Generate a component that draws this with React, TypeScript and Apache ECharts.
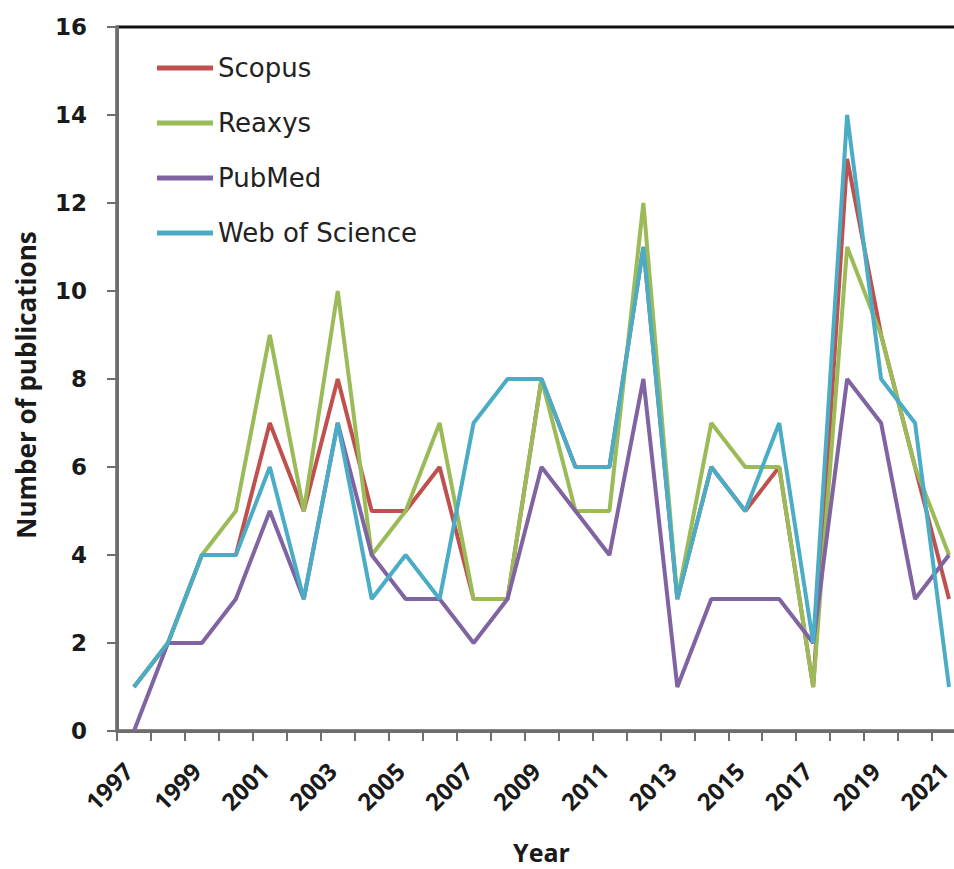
import React, { useEffect, useRef } from "react";
import * as echarts from "echarts";

const years = [
  "1997", "1998", "1999", "2000", "2001", "2002", "2003", "2004", "2005",
  "2006", "2007", "2008", "2009", "2010", "2011", "2012", "2013", "2014",
  "2015", "2016", "2017", "2018", "2019", "2020", "2021",
];
const scopus = [1, 2, 4, 4, 7, 5, 8, 5, 5, 6, 3, 3, 8, 6, 6, 11, 3, 6, 5, 6, 1, 13, 9, 6, 3];
const reaxys = [1, 2, 4, 5, 9, 5, 10, 4, 5, 7, 3, 3, 8, 5, 5, 12, 3, 7, 6, 6, 1, 11, 9, 6, 4];
const pubmed = [0, 2, 2, 3, 5, 3, 7, 4, 3, 3, 2, 3, 6, 5, 4, 8, 1, 3, 3, 3, 2, 8, 7, 3, 4];
const webOfScience = [1, 2, 4, 4, 6, 3, 7, 3, 4, 3, 7, 8, 8, 6, 6, 11, 3, 6, 5, 7, 2, 14, 8, 7, 1];
const yTicks = { min: 0, max: 16, interval: 2 };

const FONT = "'Open Sans', 'Noto Sans', sans-serif";
const WIDE = "'DejaVu Sans', sans-serif";
const AXIS_GRAY = "#6e6e6e";

export default function App() {
  const ref = useRef<HTMLDivElement>(null);
  useEffect(() => {
    const chart = echarts.init(ref.current!, null, { renderer: "svg" });
    const mk = (name: string, data: number[], color: string) => ({
      name,
      type: "line",
      data,
      symbol: "none",
      lineStyle: { color, width: 4 },
      itemStyle: { color },
    });
    chart.setOption({
      animation: false,
      backgroundColor: "#ffffff",
      grid: {
        left: 117,
        top: 27,
        right: 1,
        bottom: 136,
        show: true,
        borderColor: "#111111",
        borderWidth: 3,
        backgroundColor: "transparent",
      },
      legend: {
        orient: "vertical",
        left: 152,
        top: 48,
        icon: "rect",
        itemWidth: 56,
        itemHeight: 5,
        itemGap: 25,
        textStyle: { fontFamily: WIDE, fontSize: 26, color: "#222", lineHeight: 30 },
        data: ["Scopus", "Reaxys", "PubMed", "Web of Science"],
      },
      xAxis: {
        type: "category",
        data: years,
        boundaryGap: true,
        name: "Year",
        nameLocation: "middle",
        nameGap: 108,
        nameTextStyle: { fontFamily: FONT, fontSize: 25, fontWeight: "bold", color: "#1a1a1a" },
        axisLine: { lineStyle: { color: AXIS_GRAY, width: 3 } },
        axisTick: { show: true, interval: 0, length: 10, lineStyle: { color: AXIS_GRAY, width: 2 } },
        axisLabel: {
          interval: 1,
          rotate: 45,
          margin: 30,
          padding: [0, 8, 0, 0],
          fontFamily: FONT,
          fontSize: 24,
          fontWeight: "bold",
          color: "#1a1a1a",
        },
        splitLine: { show: false },
      },
      yAxis: {
        type: "value",
        min: yTicks.min,
        max: yTicks.max,
        interval: yTicks.interval,
        name: "Number of publications",
        nameLocation: "middle",
        nameGap: 78,
        nameTextStyle: {
          fontFamily: FONT,
          fontSize: 26,
          fontWeight: "bold",
          color: "#1a1a1a",
          padding: [0, 12, 0, 0],
        },
        axisLine: { show: true, lineStyle: { color: AXIS_GRAY, width: 3 } },
        axisTick: { show: true, length: 10, lineStyle: { color: AXIS_GRAY, width: 2 } },
        axisLabel: {
          margin: 30,
          fontFamily: WIDE,
          fontSize: 23,
          fontWeight: "bold",
          color: "#1a1a1a",
        },
        splitLine: { show: false },
      },
      series: [
        mk("Scopus", scopus, "#C0504D"),
        mk("Reaxys", reaxys, "#9BBB59"),
        mk("PubMed", pubmed, "#8064A2"),
        mk("Web of Science", webOfScience, "#4BACC6"),
      ],
    });
    return () => chart.dispose();
  }, []);
  return (
    <div
      style={{ position: "absolute", left: 0, top: 0, width: 954, height: 869, overflow: "hidden", background: "#fff" }}
    >
      <div ref={ref} style={{ width: 967, height: 869 }} />
    </div>
  );
}
